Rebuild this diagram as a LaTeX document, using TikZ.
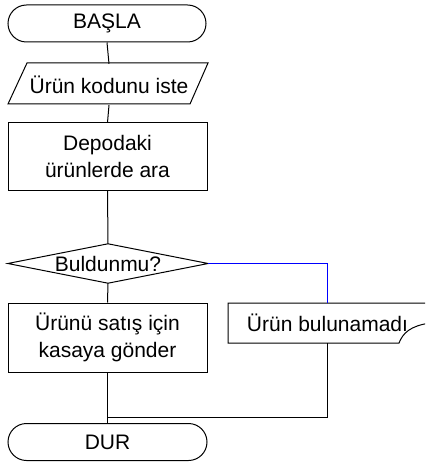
\documentclass[tikz,border=0pt]{standalone}
\usepackage{fontspec}
\setmainfont{Liberation Sans}
\begin{document}
\begin{tikzpicture}[x=1pt,y=-1pt,
  every node/.style={font=\fontsize{21}{27}\selectfont, inner sep=0pt, align=center},
  ln/.style={line width=1pt, black},
  term/.style={draw, line width=1pt, rounded corners=18.5pt, minimum height=37pt},
  procbox/.style={draw, line width=1pt, rectangle},
  txt/.style={rectangle}
]
\useasboundingbox (0,0) rectangle (425,465);
% terminal start
\node[term, minimum width=198pt] (t1) at (107,23.5) {BAŞLA};
% input parallelogram
\node[txt, minimum width=181pt, minimum height=41pt] (p1) at (109,84.5) {Ürün kodunu iste};
\draw[ln, line join=miter] (27,63) -- (208,63) -- (190,104) -- (8,104) -- cycle;
% process
\node[procbox, minimum width=199pt, minimum height=67.5pt] (p2) at (107.5,156.75) {Depodaki\\ürünlerde ara};
% decision
\node[txt, minimum width=200pt, minimum height=39pt] (d) at (108,263.5) {Buldunmu?};
\draw[ln] (d.west) -- (d.north) -- (d.east) -- (d.south) -- cycle;
% process 2
\node[procbox, minimum width=199pt, minimum height=69pt] (p3) at (107.5,337.5) {Ürünü satış için\\kasaya gönder};
% display (not found)
\node[txt, minimum width=197pt, minimum height=40pt] (nf) at (327.5,323) {Ürün bulunamadı};
\begin{scope}
\clip (0,0) rectangle (425,465);
\draw[ln] (440,303) -- (228,303) -- (228,343) -- (399,343)
  .. controls (403,333) and (410,326) .. (430,323);
\end{scope}
% terminal end
\node[term, minimum width=199pt] (t2) at (107.5,442) {DUR};
\coordinate (j) at (t2.north |- 0,417);
% connectors
\draw[ln] (t1.south) -- (p1.north);
\draw[ln] (p1.south) -- (p2.north);
\draw[ln] (p2.south) -- (d.north);
\draw[ln] (d.south) -- (p3.north);
\draw[ln] (p3.south) -- (t2.north);
\draw[line width=1.2pt, blue] (d.east) -| (nf.north);
\draw[ln] (nf.south) |- (j);
\end{tikzpicture}
\end{document}
